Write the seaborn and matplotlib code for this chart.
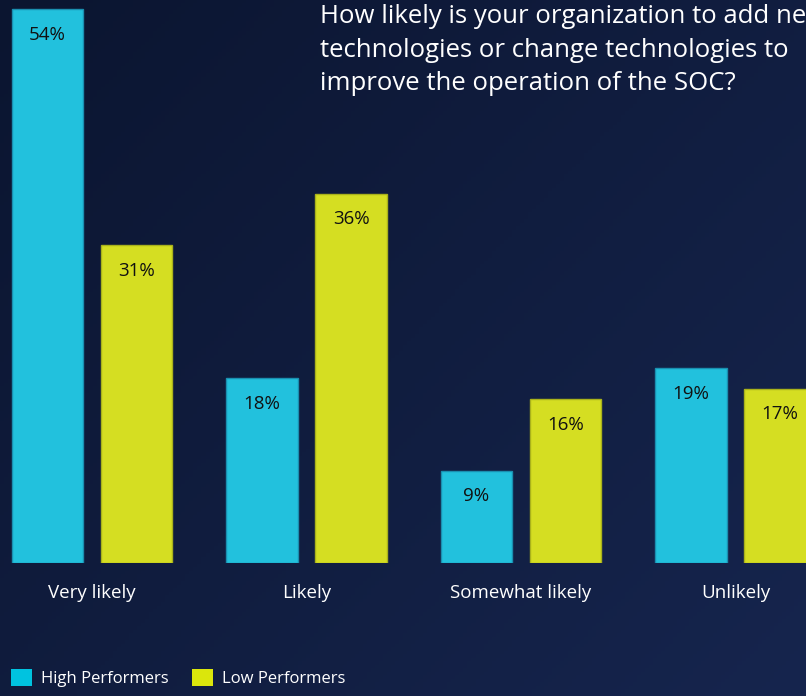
import numpy as np
import pandas as pd
import matplotlib
matplotlib.use("Agg")
import matplotlib.pyplot as plt
from matplotlib.patches import Patch
import seaborn as sns

categories = ["Very likely", "Likely", "Somewhat likely", "Unlikely"]
high_performers = [54, 18, 9, 19]
low_performers = [31, 36, 16, 17]
series_names = ["High Performers", "Low Performers"]
title = ("How likely is your organization to add new\n"
         "technologies or change technologies to\n"
         "improve the operation of the SOC?")

df = pd.DataFrame({
    "category": categories * 2,
    "value": high_performers + low_performers,
    "group": [series_names[0]] * 4 + [series_names[1]] * 4,
})

sns.set_theme(style="white")
plt.rcParams["font.family"] = ["Open Sans", "DejaVu Sans"]

W, H = 806, 696
fig = plt.figure(figsize=(W / 100, H / 100), dpi=100)

# navy gradient background
bg = fig.add_axes([0, 0, 1, 1], zorder=0)
yy, xx = np.mgrid[0:1:200j, 0:1:200j]
t = (0.55 * xx + 0.45 * yy)
c0 = np.array([11, 21, 48]) / 255
c1 = np.array([22, 37, 78]) / 255
img = c0[None, None, :] * (1 - t[..., None]) + c1[None, None, :] * t[..., None]
bg.imshow(img, extent=[0, 1, 0, 1], aspect="auto", origin="upper")
bg.axis("off")

bar_colors = {"High Performers": "#22c1dd", "Low Performers": "#d5de22"}
edge_colors = {"High Performers": "#1a8fb0", "Low Performers": "#a9b21a"}

ax_bottom = (H - 563) / H
ax = fig.add_axes([0, ax_bottom, 1, 1 - ax_bottom], zorder=1)
ax.patch.set_alpha(0)
sns.barplot(data=df, x="category", y="value", hue="group", order=categories,
            hue_order=series_names, palette=bar_colors, width=0.83, gap=0.2,
            legend=False, ax=ax, saturation=1)

px_per_unit = 214.5
x_left = -92 / px_per_unit
ax.set_xlim(x_left, x_left + W / px_per_unit)
ax.set_ylim(0, 563 / 10.26)

for cont, name, vals in zip(ax.containers, series_names, [high_performers, low_performers]):
    for p in cont.patches:
        p.set_edgecolor(edge_colors[name])
        p.set_linewidth(1.0)
    ax.bar_label(cont, labels=[f"{v}%" for v in vals], padding=-18.5,
                 fontsize=13.5, color="#111111")
    for txt in ax.texts[-len(vals):]:
        txt.set_va("center")

for s in ax.spines.values():
    s.set_visible(False)
ax.set_xlabel("")
ax.set_ylabel("")
ax.set_yticks([])
ax.tick_params(axis="x", length=0, pad=15, labelsize=13.5, labelcolor="white")

fig.text(320 / W, 1 - 4 / H, title, ha="left", va="top", color="white",
         fontsize=18.5, linespacing=1.46)

handles = [Patch(facecolor=c, edgecolor="none") for c in ["#00c3e0", "#dbe60c"]]
fig.legend(handles, series_names, loc="lower left", bbox_to_anchor=(-4 / W, -6 / H),
           ncol=2, frameon=False, fontsize=12, labelcolor="white",
           handlelength=1.26, handleheight=1.26, handletextpad=0.54, columnspacing=1.38)

fig.savefig("out.png", dpi=100)
